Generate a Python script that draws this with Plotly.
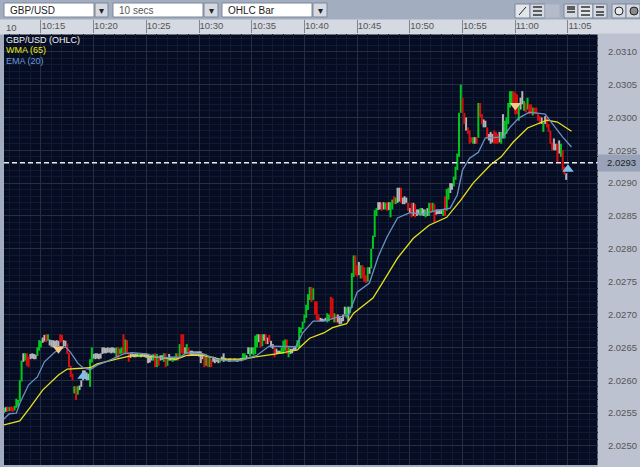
import pandas as pd
import plotly.graph_objects as go

W, H = 640, 467
L, R, T, B = 4, 42, 34, 2

# prices are in hundred-thousandths above 2.0 (2650 = 2.02650)
bar_high = [
    2558, 2559, 2560, 2559, 2560, 2559, 2561, 2572, 2570, 2600,
    2630, 2641, 2641, 2641, 2636, 2640, 2641, 2640, 2639, 2650,
    2661, 2660, 2665, 2669, 2670, 2670, 2662, 2661, 2661, 2660,
    2661, 2660, 2670, 2669, 2661, 2660, 2656, 2642, 2622, 2610,
    2591, 2591, 2591, 2592, 2600, 2615, 2615, 2612, 2610, 2632,
    2650, 2640, 2641, 2641, 2640, 2641, 2650, 2650, 2649, 2650,
    2649, 2650, 2650, 2649, 2650, 2650, 2648, 2650, 2670, 2662,
    2661, 2642, 2641, 2641, 2640, 2641, 2641, 2640, 2641, 2640,
    2641, 2641, 2640, 2636, 2638, 2640, 2641, 2640, 2636, 2638,
    2638, 2641, 2641, 2635, 2640, 2636, 2636, 2636, 2641, 2641,
    2655, 2670, 2670, 2650, 2655, 2650, 2645, 2645, 2644, 2644,
    2644, 2644, 2644, 2641, 2641, 2640, 2636, 2636, 2632, 2636,
    2635, 2632, 2632, 2632, 2636, 2641, 2634, 2632, 2633, 2633,
    2632, 2633, 2633, 2632, 2633, 2634, 2641, 2641, 2638, 2650,
    2650, 2650, 2650, 2668, 2670, 2670, 2670, 2670, 2670, 2670,
    2665, 2669, 2660, 2655, 2650, 2648, 2645, 2645, 2650, 2660,
    2662, 2662, 2650, 2648, 2648, 2650, 2652, 2661, 2681, 2680,
    2689, 2700, 2715, 2731, 2742, 2742, 2740, 2720, 2720, 2700,
    2695, 2694, 2693, 2695, 2702, 2700, 2727, 2725, 2702, 2700,
    2700, 2698, 2695, 2700, 2712, 2711, 2712, 2712, 2763, 2790,
    2790, 2775, 2780, 2775, 2775, 2772, 2760, 2772, 2772, 2800,
    2820, 2859, 2862, 2871, 2871, 2870, 2871, 2870, 2871, 2871,
    2871, 2875, 2880, 2878, 2893, 2893, 2893, 2878, 2880, 2878,
    2870, 2862, 2870, 2870, 2868, 2860, 2860, 2862, 2862, 2860,
    2860, 2862, 2870, 2870, 2870, 2868, 2860, 2860, 2860, 2860,
    2860, 2880, 2891, 2893, 2900, 2900, 2910, 2925, 2945, 3007,
    3050, 3030, 3007, 3000, 2985, 2980, 2970, 2970, 2970, 2970,
    3022, 3022, 3005, 2997, 2995, 2985, 2975, 2978, 2975, 2980,
    2978, 2975, 2978, 2978, 3005, 2995, 3000, 3022, 3040, 3040,
    3040, 3038, 3035, 3020, 3030, 3040, 3025, 3022, 3030, 3020,
    3020, 3015, 3015, 3015, 3005, 3002, 3000, 2992, 3002, 3000,
    2990, 2980, 2962, 2968, 2960, 2960, 2965, 2960, 2950, 2925,
    2915,
]
bar_low = [
    2550, 2552, 2552, 2553, 2553, 2552, 2554, 2558, 2560, 2568,
    2598, 2628, 2630, 2622, 2620, 2632, 2633, 2632, 2632, 2637,
    2645, 2650, 2657, 2659, 2658, 2660, 2653, 2651, 2650, 2651,
    2652, 2652, 2657, 2658, 2652, 2652, 2640, 2620, 2605, 2600,
    2580, 2570, 2578, 2585, 2590, 2600, 2602, 2600, 2600, 2590,
    2627, 2633, 2632, 2633, 2632, 2633, 2640, 2641, 2641, 2642,
    2642, 2641, 2642, 2641, 2635, 2633, 2640, 2641, 2640, 2641,
    2640, 2628, 2634, 2636, 2635, 2635, 2636, 2635, 2635, 2636,
    2635, 2634, 2626, 2627, 2630, 2630, 2620, 2620, 2622, 2630,
    2631, 2628, 2620, 2622, 2630, 2630, 2628, 2630, 2630, 2630,
    2635, 2641, 2640, 2640, 2640, 2636, 2638, 2638, 2638, 2637,
    2638, 2636, 2626, 2632, 2620, 2622, 2620, 2620, 2620, 2628,
    2626, 2628, 2626, 2627, 2630, 2628, 2629, 2629, 2628, 2629,
    2628, 2629, 2628, 2628, 2629, 2629, 2630, 2632, 2632, 2640,
    2636, 2640, 2638, 2640, 2650, 2658, 2650, 2652, 2660, 2655,
    2655, 2658, 2650, 2648, 2635, 2640, 2640, 2640, 2640, 2640,
    2645, 2640, 2635, 2640, 2641, 2645, 2645, 2650, 2650, 2672,
    2678, 2687, 2695, 2707, 2722, 2719, 2722, 2700, 2692, 2690,
    2690, 2690, 2690, 2690, 2688, 2690, 2695, 2692, 2688, 2688,
    2688, 2685, 2686, 2690, 2700, 2695, 2690, 2702, 2710, 2757,
    2760, 2758, 2760, 2755, 2755, 2750, 2748, 2750, 2762, 2770,
    2800, 2818, 2850, 2859, 2860, 2858, 2860, 2860, 2858, 2859,
    2848, 2860, 2868, 2868, 2870, 2872, 2870, 2868, 2868, 2870,
    2858, 2855, 2848, 2850, 2848, 2850, 2852, 2850, 2851, 2850,
    2848, 2850, 2850, 2855, 2856, 2840, 2852, 2853, 2853, 2853,
    2850, 2850, 2858, 2875, 2885, 2890, 2895, 2905, 2920, 2940,
    3007, 3007, 2990, 2980, 2975, 2960, 2962, 2960, 2960, 2960,
    2969, 3000, 2990, 2985, 2985, 2968, 2965, 2960, 2962, 2960,
    2960, 2960, 2962, 2960, 2968, 2968, 2975, 2990, 3015, 3020,
    3018, 3005, 3005, 2995, 3012, 3020, 3010, 3008, 3012, 3005,
    3005, 3003, 3005, 3005, 2995, 2990, 2990, 2978, 2990, 2985,
    2978, 2960, 2950, 2950, 2950, 2930, 2945, 2940, 2920, 2913,
    2905,
]
# g = up, r = down, w = unchanged
bar_kind = (
    "gwrgrrgggg" "gwgrrwwwwg" "ggwwrgwwww" "wwrrwwrrrr" "grgwwwwwwg"
    "gwwwwwwwww" "wwwwgrggrg" "rrwwwwwgww" "wwwwwgrgrw" "wgrgwwgwgr"
    "grrwgrwwww" "wwwwrgrgrw" "wwwgwwwgww" "rwgwwwggww" "gwgggwrgwr"
    "wrwwrwwwgg" "grgwwwwggg" "gggggrgrrr" "wwwwggrrgr" "wwwwwgwggg"
    "rrwgrrrgwg" "gggwwrwgrw" "ggrgwwrwww" "rwrwrwwgww" "gwgrgrwwww"
    "grggwwgggg" "grrwrrrgwr" "grrwwrwwwr" "rrwgwggggg" "rrrgwwgrgr"
    "rgrrrrwgwr" "rrrwwrwgrr" "w"
)

wma_bar = [0, 9, 15, 22, 31, 36, 49, 53, 64, 72, 81, 93, 98, 104, 113, 123, 136, 142, 155, 167, 168,
           174, 182, 187, 195, 199, 204, 210, 214, 224, 233, 242, 252, 260, 267, 277, 283, 290, 298,
           305, 309, 315, 323]
wma_value = [2532, 2538, 2559, 2585, 2608, 2617, 2619, 2625, 2632, 2637, 2637, 2634, 2632, 2638, 2638,
             2632, 2632, 2635, 2640, 2646, 2649, 2664, 2672, 2680, 2686, 2702, 2712, 2725, 2742, 2786,
             2816, 2836, 2848, 2874, 2900, 2928, 2940, 2963, 2984, 2991, 2996, 2993, 2979]
ema_bar = [0, 3, 7, 9, 14, 19, 23, 29, 35, 38, 42, 45, 49, 53, 59, 68, 73, 81, 89, 100, 104, 113, 121,
           129, 136, 144, 151, 159, 166, 170, 176, 182, 190, 196, 201, 208, 213, 218, 224, 231, 238,
           246, 254, 258, 261, 265, 270, 274, 284, 288, 293, 299, 308, 312, 318, 323]
ema_value = [2541, 2549, 2550, 2565, 2593, 2605, 2628, 2643, 2651, 2642, 2626, 2619, 2616, 2623, 2629,
             2640, 2642, 2640, 2634, 2635, 2642, 2640, 2632, 2629, 2631, 2638, 2652, 2651, 2651, 2672,
             2690, 2690, 2696, 2699, 2734, 2748, 2788, 2818, 2847, 2855, 2853, 2858, 2862, 2882, 2920,
             2938, 2947, 2969, 2970, 2985, 2999, 3008, 3005, 2991, 2970, 2955]

sell_bar = [31, 291]
sell_value = [2648, 3018]
buy_bar = [45, 321]
buy_value = [2606, 2921]

last_price = 2931
start = pd.Timestamp("2024-01-01 10:11:30")
end = pd.Timestamp("2024-01-01 11:07:51")
y_low, y_high = 2471, 3127


def price(values):
    return [2 + v / 1e5 for v in values]


def bar_time(index):
    return [start + pd.Timedelta(seconds=10 * i) for i in index]


def px_shape(x0, y0, x1, y1, fill, line=None):
    # position given in screen pixels, converted to paper coordinates
    return dict(
        type="rect", xref="paper", yref="paper", layer="below",
        x0=(x0 - L) / (W - L - R), x1=(x1 - L) / (W - L - R),
        y0=1 - (y0 - T) / (H - T - B), y1=1 - (y1 - T) / (H - T - B),
        fillcolor=fill, line=dict(color=line or fill, width=1),
    )


def px_text(x, y, text, color, size=9, xanchor="left"):
    return dict(
        text=text, xref="paper", yref="paper", showarrow=False,
        x=(x - L) / (W - L - R), y=1 - (y - T) / (H - T - B),
        xanchor=xanchor, yanchor="middle",
        font=dict(family="Liberation Sans", size=size, color=color),
    )


fig = go.Figure()

# unchanged bars first so the coloured ones sit on top of them
kinds = {"w": "#b4b6b8", "g": "#00c81e", "r": "#d80f0f"}
for kind, color in kinds.items():
    idx = [i for i, k in enumerate(bar_kind) if k == kind]
    lows = [bar_low[i] for i in idx]
    highs = [bar_high[i] for i in idx]
    up = kind != "r"
    fig.add_trace(
        go.Ohlc(
            x=bar_time(idx),
            open=price(lows if up else highs),
            high=price(highs),
            low=price(lows),
            close=price(highs if up else lows),
            tickwidth=0,
            increasing=dict(line=dict(color=color, width=2)),
            decreasing=dict(line=dict(color=color, width=2)),
            showlegend=False,
        )
    )

fig.add_trace(go.Scatter(x=bar_time(wma_bar), y=price(wma_value), mode="lines",
                         line=dict(color="#e6e01e", width=1.3), showlegend=False))
fig.add_trace(go.Scatter(x=bar_time(ema_bar), y=price(ema_value), mode="lines",
                         line=dict(color="#6f90c4", width=1.3), showlegend=False))
fig.add_trace(go.Scatter(x=bar_time(sell_bar), y=price(sell_value), mode="markers",
                         marker=dict(symbol="triangle-down", size=10, color="#f6c88c"), showlegend=False))
fig.add_trace(go.Scatter(x=bar_time(buy_bar), y=price(buy_value), mode="markers",
                         marker=dict(symbol="triangle-up", size=10, color="#7fc0ea"), showlegend=False))

shapes = [
    px_shape(0, 20, W, T, "#d5d9e1"),
    px_shape(W - R, T, W, H, "#bcc2d0"),
    px_shape(W - R, 155, W, 171, "#98a3ba"),
    # drop-downs
    px_shape(4, 3, 94, 17, "#ffffff", "#7d8798"),
    px_shape(95, 3, 108, 17, "#d5d9e1", "#7d8798"),
    px_shape(113, 3, 203, 17, "#ffffff", "#7d8798"),
    px_shape(204, 3, 218, 17, "#d5d9e1", "#7d8798"),
    px_shape(222, 3, 312, 17, "#ffffff", "#7d8798"),
    px_shape(313, 3, 327, 17, "#d5d9e1", "#7d8798"),
    # tool buttons
    px_shape(515, 4, 530, 18, "#e2e5ea", "#7d8798"),
    px_shape(530, 4, 545, 18, "#d5d9e1", "#7d8798"),
    px_shape(545, 4, 560, 18, "#b4bccb", "#a3adbe"),
    px_shape(564, 4, 578, 18, "#d5d9e1", "#7d8798"),
    px_shape(578, 4, 593, 18, "#e2e5ea", "#7d8798"),
    px_shape(593, 4, 607, 18, "#d5d9e1", "#7d8798"),
    px_shape(612, 4, 626, 18, "#d5d9e1", "#7d8798"),
    px_shape(626, 4, 640, 18, "#d5d9e1", "#7d8798"),
]
# icons on the tool buttons
for x0, x1, rows in [(533, 542, (7, 11, 15)), (567, 575, (7, 9, 12)), (581, 590, (7, 11, 15)), (596, 604, (7, 12, 15))]:
    for row in rows:
        shapes.append(px_shape(x0, row, x1, row, "#333333", "#333333"))
shapes.append(dict(type="line", xref="paper", yref="paper",
                   x0=(519 - L) / (W - L - R), x1=(526 - L) / (W - L - R),
                   y0=1 - (15 - T) / (H - T - B), y1=1 - (7 - T) / (H - T - B),
                   line=dict(color="#222222", width=1)))
for cx, fill in [(619, "#e8e8e8"), (634, "#8a8a8a")]:
    shape = px_shape(cx - 4, 7, cx + 4, 15, fill, "#222222")
    shape["type"] = "circle"
    shapes.append(shape)
# current price line
shapes.append(dict(type="line", xref="paper", yref="y", x0=0, x1=1,
                   y0=2 + last_price / 1e5, y1=2 + last_price / 1e5,
                   line=dict(color="#e8e8e8", width=1.5, dash="5px,3px")))

annotations = [
    px_text(8, 10, "GBP/USD", "#222222", 10),
    px_text(117, 10, "10 secs", "#555555", 10),
    px_text(226, 10, "OHLC Bar", "#222222", 10),
    px_text(4, 27, "10", "#555555", 9.5),
    px_text(4, 40, "GBP/USD (OHLC)", "#f0f0f0"),
    px_text(4, 50, "WMA (65)", "#f0ea10"),
    px_text(4, 61, "EMA (20)", "#6f9bd8"),
    px_text(W - R + 7, 163, "2.0293", "#222222", 9.5),
    px_text(101.5, 10, "▾", "#222222", 10, "center"),
    px_text(211, 10, "▾", "#222222", 10, "center"),
    px_text(320, 10, "▾", "#222222", 10, "center"),
]

fig.update_layout(
    width=W,
    height=H,
    margin=dict(l=L, r=R, t=T, b=B, pad=0),
    template=None,
    paper_bgcolor="#a3adc0",
    plot_bgcolor="#060d22",
    shapes=shapes,
    annotations=annotations,
    hovermode=False,
    xaxis=dict(
        type="date",
        side="top",
        range=[start, end],
        rangeslider=dict(visible=False),
        tick0="2024-01-01 10:15:00",
        dtick=300000,
        tickformat="%H:%M",
        ticks="outside",
        ticklen=13,
        tickcolor="#7d8798",
        ticklabelposition="outside right",
        tickfont=dict(family="Liberation Sans", size=9.5, color="#555555"),
        showgrid=True,
        gridcolor="#242f44",
        gridwidth=1,
        minor=dict(dtick=60000, tick0="2024-01-01 10:15:00", showgrid=True, gridcolor="#101a34", gridwidth=1),
        zeroline=False,
        showline=False,
    ),
    yaxis=dict(
        side="right",
        range=[2 + y_low / 1e5, 2 + y_high / 1e5],
        tick0=2.025,
        dtick=0.0005,
        tickformat=".4f",
        ticks="outside",
        ticklen=7,
        tickcolor="rgba(0,0,0,0)",
        tickfont=dict(family="Liberation Sans", size=9.5, color="#555555"),
        showgrid=True,
        gridcolor="#242f44",
        gridwidth=1,
        minor=dict(dtick=0.0001, tick0=2.025, showgrid=True, gridcolor="#101a34", gridwidth=1),
        zeroline=False,
        showline=False,
    ),
)

# the page's default body margin would shift the figure by 8px
fig.write_html("out.html", config=dict(displayModeBar=False), post_script="document.body.style.margin='0';")
